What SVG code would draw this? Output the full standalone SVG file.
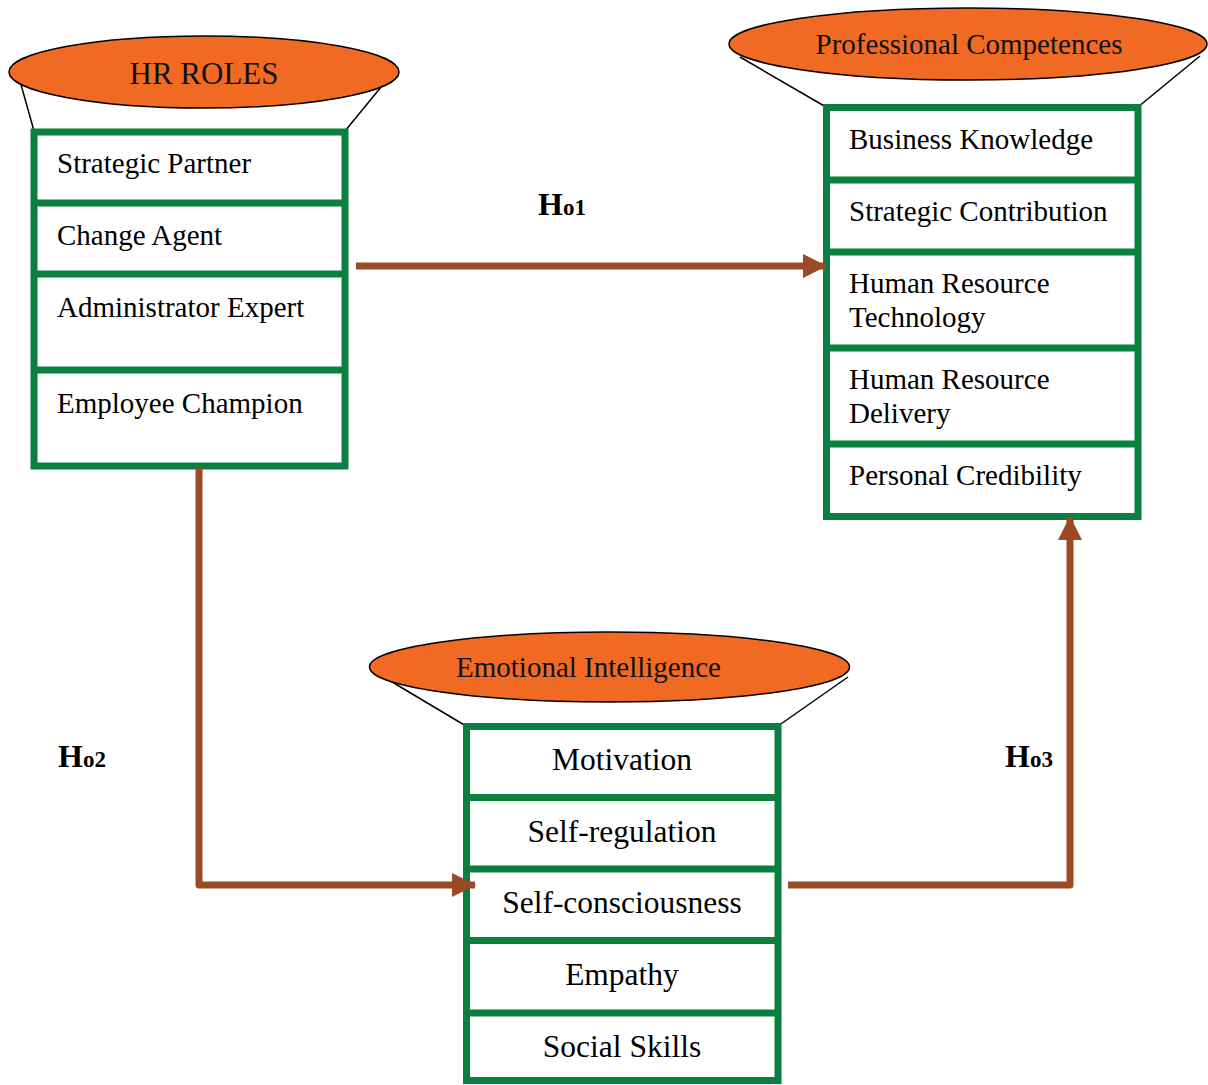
<svg xmlns="http://www.w3.org/2000/svg" width="1208" height="1085" viewBox="0 0 1208 1085">
<style>
.ell{fill:#F16A24;stroke:#000;stroke-width:1.5}
.fun{stroke:#000;stroke-width:1.5;fill:none}
.box{fill:#fff;stroke:#0A7F3F;stroke-width:7}
.div{stroke:#0A7F3F;stroke-width:7}
.t{font-family:"Liberation Serif","Times New Roman",serif;font-size:29px;fill:#000}
.tc{font-family:"Liberation Serif","Times New Roman",serif;font-size:31.5px;fill:#000;text-anchor:middle}
.hd{font-family:"Liberation Serif","Times New Roman",serif;font-size:29px;fill:#111;text-anchor:middle}
.h{font-family:"Liberation Serif","Times New Roman",serif;font-size:32px;font-weight:bold;fill:#000}
.hs{font-size:23px}
.arr{fill:none;stroke:#9A4A25;stroke-width:7;stroke-linejoin:round}
</style>
<defs>
<marker id="ah" markerUnits="userSpaceOnUse" markerWidth="24" markerHeight="24" refX="23" refY="12" orient="auto">
<path d="M0,0 L24,12 L0,24 z" fill="#9A4A25"/>
</marker>
</defs>

<g id="hr-roles">
<line class="fun" x1="20" y1="81" x2="34" y2="131"/>
<line class="fun" x1="386" y1="81" x2="345" y2="131"/>
<ellipse class="ell" cx="204" cy="72" rx="195" ry="36"/>
<text class="hd" x="204" y="84" style="font-size:31px">HR ROLES</text>
<rect class="box" x="34" y="132" width="311" height="334"/>
<line class="div" x1="34" y1="203" x2="345" y2="203"/>
<line class="div" x1="34" y1="274" x2="345" y2="274"/>
<line class="div" x1="34" y1="370" x2="345" y2="370"/>
<text class="t" x="57" y="173">Strategic Partner</text>
<text class="t" x="57" y="245">Change Agent</text>
<text class="t" x="57" y="317">Administrator Expert</text>
<text class="t" x="57" y="413">Employee Champion</text>
</g>

<g id="professional-competences">
<line class="fun" x1="740" y1="57" x2="826" y2="107"/>
<line class="fun" x1="1200" y1="56" x2="1138" y2="107"/>
<ellipse class="ell" cx="968" cy="44" rx="239" ry="36"/>
<text class="hd" x="969" y="54">Professional Competences</text>
<rect class="box" x="826.5" y="107.5" width="311.5" height="409"/>
<line class="div" x1="826.5" y1="180" x2="1138" y2="180"/>
<line class="div" x1="826.5" y1="252" x2="1138" y2="252"/>
<line class="div" x1="826.5" y1="348" x2="1138" y2="348"/>
<line class="div" x1="826.5" y1="444" x2="1138" y2="444"/>
<text class="t" x="849" y="149">Business Knowledge</text>
<text class="t" x="849" y="221">Strategic Contribution</text>
<text class="t" x="849" y="293">Human Resource</text>
<text class="t" x="849" y="327">Technology</text>
<text class="t" x="849" y="389">Human Resource</text>
<text class="t" x="849" y="423">Delivery</text>
<text class="t" x="849" y="485">Personal Credibility</text>
</g>

<g id="emotional-intelligence">
<line class="fun" x1="372" y1="670" x2="466" y2="726"/>
<line class="fun" x1="848" y1="677" x2="778" y2="726"/>
<ellipse class="ell" cx="609.5" cy="667" rx="240" ry="35"/>
<text class="hd" x="588.5" y="677">Emotional Intelligence</text>
<rect class="box" x="466.5" y="726.5" width="311.5" height="354"/>
<line class="div" x1="466.5" y1="797.5" x2="778" y2="797.5"/>
<line class="div" x1="466.5" y1="869" x2="778" y2="869"/>
<line class="div" x1="466.5" y1="940.5" x2="778" y2="940.5"/>
<line class="div" x1="466.5" y1="1013" x2="778" y2="1013"/>
<text class="tc" x="622" y="770">Motivation</text>
<text class="tc" x="622" y="842">Self-regulation</text>
<text class="tc" x="622" y="913">Self-consciousness</text>
<text class="tc" x="622" y="985">Empathy</text>
<text class="tc" x="622" y="1057">Social Skills</text>
</g>

<g id="connectors">
<path class="arr" d="M356,266 L826,266" marker-end="url(#ah)"/>
<path class="arr" d="M199,468 L199,885 L475,885" marker-end="url(#ah)"/>
<path class="arr" d="M788,885 L1070,885 L1070,517" marker-end="url(#ah)"/>
<text class="h" x="538" y="215">H<tspan class="hs">o1</tspan></text>
<text class="h" x="58" y="767">H<tspan class="hs">o2</tspan></text>
<text class="h" x="1005" y="767">H<tspan class="hs">o3</tspan></text>
</g>
</svg>
